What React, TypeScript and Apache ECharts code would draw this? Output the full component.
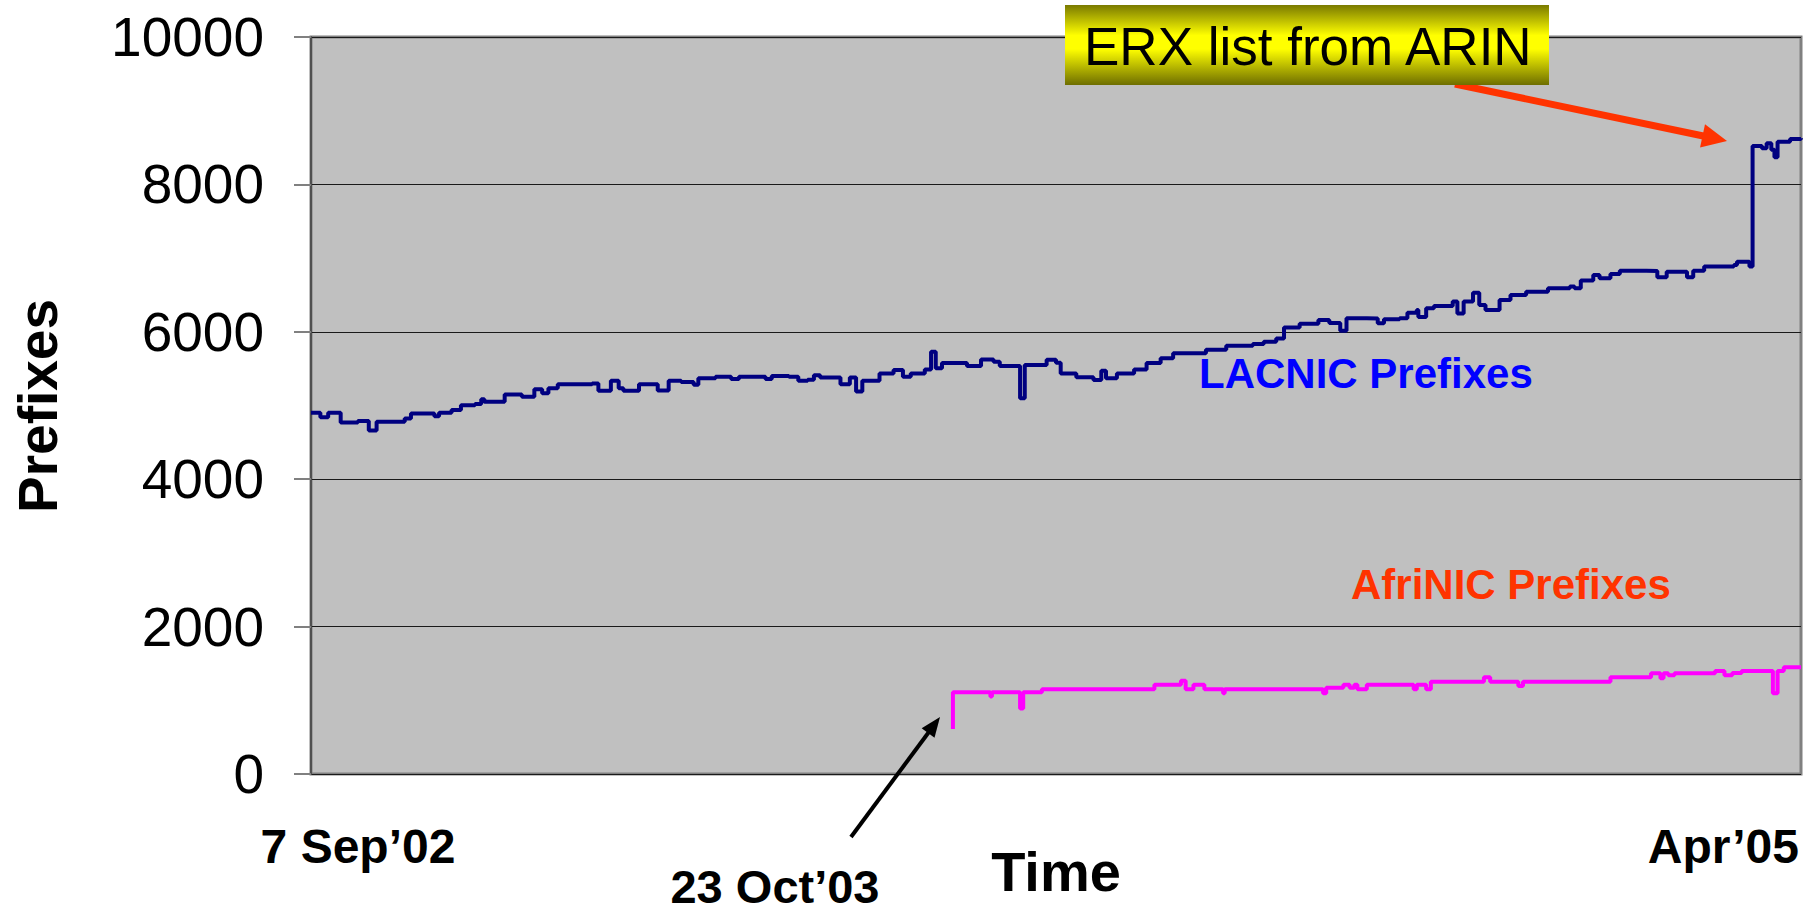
import React, { useEffect, useRef } from 'react';
import * as echarts from 'echarts';

// Days counted from 7 Sep 2002 (x axis), prefix counts (y axis)
const yTicks = [0, 2000, 4000, 6000, 8000, 10000];
const xStartLabel = '7 Sep\u201902';
const xEndLabel = 'Apr\u201905';
const afrinicStartLabel = '23 Oct\u201903';
const xAxisTitle = 'Time';
const yAxisTitle = 'Prefixes';
const calloutText = 'ERX list from ARIN';
const lacnicName = 'LACNIC Prefixes';
const afrinicName = 'AfriNIC Prefixes';
const totalDays = 954;

const lacnicDays = [
  0, 6, 11, 19, 30, 37, 42, 60, 64, 79, 82, 90, 96, 105, 109, 111, 120, 124, 135, 143, 148, 152, 158, 180, 184,
  192, 197, 200, 210, 222, 229, 237, 245, 248, 259, 269, 274, 291, 295, 306, 312, 318, 322, 326, 339, 345, 349,
  353, 364, 373, 379, 384, 393, 397, 400, 404, 420, 429, 437, 441, 450, 454, 457, 462, 471, 477, 480, 490, 501,
  506, 509, 516, 527, 535, 544, 552, 573, 586, 603, 610, 618, 623, 633, 645, 652, 659, 663, 676, 683, 687, 697,
  702, 708, 709, 714, 719, 731, 734, 738, 744, 748, 752, 761, 768, 778, 792, 806, 809, 813, 821, 825, 832, 838,
  855, 862, 868, 881, 885, 892, 911, 913, 921, 923, 929, 932, 935, 937, 939, 945, 947, 954,
];
const lacnicValues = [
  4900, 4840, 4900, 4770, 4790, 4660, 4780, 4825, 4890, 4855, 4900, 4940, 5005, 5020, 5085, 5050, 5050, 5150, 5120,
  5220, 5165, 5235, 5290, 5300, 5200, 5335, 5235, 5200, 5290, 5205, 5335, 5320, 5280, 5370, 5390, 5360, 5390, 5360,
  5400, 5390, 5335, 5350, 5410, 5380, 5290, 5380, 5190, 5335, 5435, 5480, 5390, 5435, 5490, 5730, 5505, 5575, 5535,
  5625, 5595, 5535, 5535, 5100, 5550, 5550, 5620, 5580, 5435, 5385, 5345, 5470, 5370, 5435, 5490, 5575, 5640, 5710,
  5755, 5810, 5835, 5865, 5910, 6060, 6110, 6160, 6120, 6015, 6185, 6180, 6115, 6170, 6185, 6260, 6295, 6200, 6320,
  6350, 6410, 6250, 6410, 6530, 6365, 6295, 6430, 6500, 6545, 6590, 6615, 6590, 6695, 6770, 6725, 6785, 6830, 6825,
  6740, 6815, 6740, 6830, 6885, 6905, 6950, 6885, 8520, 8490, 8560, 8470, 8370, 8580, 8580, 8615, 8625,
];

const afrinicDays = [
  411, 411, 434, 435, 436, 452, 454, 456, 467, 468, 539, 540, 555, 557, 560, 565, 569, 572, 583, 584, 585, 647, 648,
  650, 661, 665, 668, 670, 673, 676, 705, 706, 708, 714, 717, 749, 751, 755, 771, 773, 776, 781, 831, 832, 856, 858,
  862, 864, 866, 869, 873, 898, 899, 903, 905, 910, 916, 934, 936, 937, 939, 942, 943, 954,
];
const afrinicValues = [
  610, 1110, 1110, 1050, 1110, 1110, 890, 1110, 1110, 1150, 1150, 1210, 1210, 1265, 1150, 1210, 1210, 1150, 1150,
  1095, 1150, 1150, 1095, 1170, 1210, 1170, 1210, 1150, 1150, 1210, 1210, 1150, 1210, 1150, 1253, 1253, 1312, 1253,
  1253, 1195, 1253, 1253, 1253, 1312, 1312, 1366, 1366, 1300, 1366, 1340, 1366, 1366, 1398, 1398, 1340, 1370, 1398,
  1398, 1095, 1095, 1398, 1398, 1448, 1448,
];

const FONT = '"Liberation Sans", Arial, Helvetica, sans-serif';

function arrow(tail: number[], tip: number[], headLen: number, halfW: number, width: number, color: string) {
  const dx = tip[0] - tail[0];
  const dy = tip[1] - tail[1];
  const len = Math.hypot(dx, dy);
  const ux = dx / len;
  const uy = dy / len;
  const nx = -uy;
  const ny = ux;
  const bx = tip[0] - ux * headLen;
  const by = tip[1] - uy * headLen;
  return [
    {
      type: 'line',
      z: 120,
      shape: { x1: tail[0], y1: tail[1], x2: bx + ux * 2, y2: by + uy * 2 },
      style: { stroke: color, lineWidth: width },
    },
    {
      type: 'polygon',
      z: 121,
      shape: {
        points: [
          [tip[0], tip[1]],
          [bx + nx * halfW, by + ny * halfW],
          [bx - nx * halfW, by - ny * halfW],
        ],
      },
      style: { fill: color },
    },
  ];
}

export default function App() {
  const ref = useRef<HTMLDivElement>(null);
  useEffect(() => {
    document.body.style.margin = '0';
    if (!ref.current) return;
    const chart = echarts.init(ref.current, undefined, { renderer: 'svg' });
    const lacnic = lacnicDays.map((d, i) => [d, lacnicValues[i]]);
    const afrinic = afrinicDays.map((d, i) => [d, afrinicValues[i]]);

    const option: any = {
      animation: false,
      backgroundColor: '#ffffff',
      grid: {
        left: 311,
        right: 19,
        top: 37,
        bottom: 140,
        show: true,
        backgroundColor: '#C0C0C0',
        borderColor: '#808080',
        borderWidth: 3,
      },
      xAxis: {
        type: 'value',
        min: 0,
        max: totalDays,
        axisLine: { show: false },
        axisTick: { show: false },
        axisLabel: { show: false },
        splitLine: { show: false },
      },
      yAxis: {
        type: 'value',
        min: yTicks[0],
        max: yTicks[yTicks.length - 1],
        interval: 2000,
        axisLine: { show: true, lineStyle: { color: '#505050', width: 2 } },
        axisTick: { show: true, inside: false, length: 17, lineStyle: { color: '#808080', width: 2 } },
        axisLabel: {
          color: '#000',
          fontSize: 55,
          fontFamily: FONT,
          margin: 47,
          formatter: (v: number) => String(v),
        },
        splitLine: { show: true, lineStyle: { color: '#1a1a1a', width: 1 } },
      },
      series: [
        {
          name: lacnicName,
          type: 'line',
          step: 'end',
          data: lacnic,
          showSymbol: false,
          lineStyle: { color: '#000080', width: 4 },
          itemStyle: { color: '#000080' },
          z: 3,
        },
        {
          name: afrinicName,
          type: 'line',
          step: 'end',
          data: afrinic,
          showSymbol: false,
          lineStyle: { color: '#FF00FF', width: 4 },
          itemStyle: { color: '#FF00FF' },
          z: 3,
        },
      ],
      graphic: [
        {
          type: 'text',
          z: 110,
          x: 38,
          y: 406,
          rotation: Math.PI / 2,
          style: {
            text: yAxisTitle,
            font: `bold 55px ${FONT}`,
            fill: '#000',
            align: 'center',
            verticalAlign: 'middle',
          },
        },
        {
          type: 'text',
          z: 110,
          x: 358,
          y: 846,
          style: { text: xStartLabel, font: `bold 48px ${FONT}`, fill: '#000', align: 'center', verticalAlign: 'middle' },
        },
        {
          type: 'text',
          z: 110,
          x: 1799,
          y: 846,
          style: { text: xEndLabel, font: `bold 48px ${FONT}`, fill: '#000', align: 'right', verticalAlign: 'middle' },
        },
        {
          type: 'text',
          z: 110,
          x: 775,
          y: 886,
          style: { text: afrinicStartLabel, font: `bold 47px ${FONT}`, fill: '#000', align: 'center', verticalAlign: 'middle' },
        },
        {
          type: 'text',
          z: 110,
          x: 1056,
          y: 871,
          style: { text: xAxisTitle, font: `bold 56px ${FONT}`, fill: '#000', align: 'center', verticalAlign: 'middle' },
        },
        {
          type: 'text',
          z: 110,
          x: 1199,
          y: 373,
          style: { text: lacnicName, font: `bold 42px ${FONT}`, fill: '#0000FF', align: 'left', verticalAlign: 'middle' },
        },
        {
          type: 'text',
          z: 110,
          x: 1351,
          y: 584,
          style: { text: afrinicName, font: `bold 42px ${FONT}`, fill: '#FF3300', align: 'left', verticalAlign: 'middle' },
        },
        ...arrow([1455, 84], [1727, 141], 25, 12, 7, '#FF3300'),
        ...arrow([851, 837], [940, 717], 20, 8, 4, '#000000'),
        {
          type: 'rect',
          z: 130,
          shape: { x: 1065, y: 5, width: 484, height: 80 },
          style: {
            fill: new echarts.graphic.LinearGradient(0, 0, 0, 1, [
              { offset: 0, color: '#7A7A00' },
              { offset: 0.38, color: '#FFFF00' },
              { offset: 0.55, color: '#FFFF00' },
              { offset: 1, color: '#6E6E00' },
            ]),
          },
        },
        {
          type: 'text',
          z: 131,
          x: 1084,
          y: 46,
          style: { text: calloutText, font: `53px ${FONT}`, fill: '#000', align: 'left', verticalAlign: 'middle' },
        },
      ],
    };
    chart.setOption(option);
    return () => chart.dispose();
  }, []);
  return <div ref={ref} style={{ width: 1820, height: 914 }} />;
}
